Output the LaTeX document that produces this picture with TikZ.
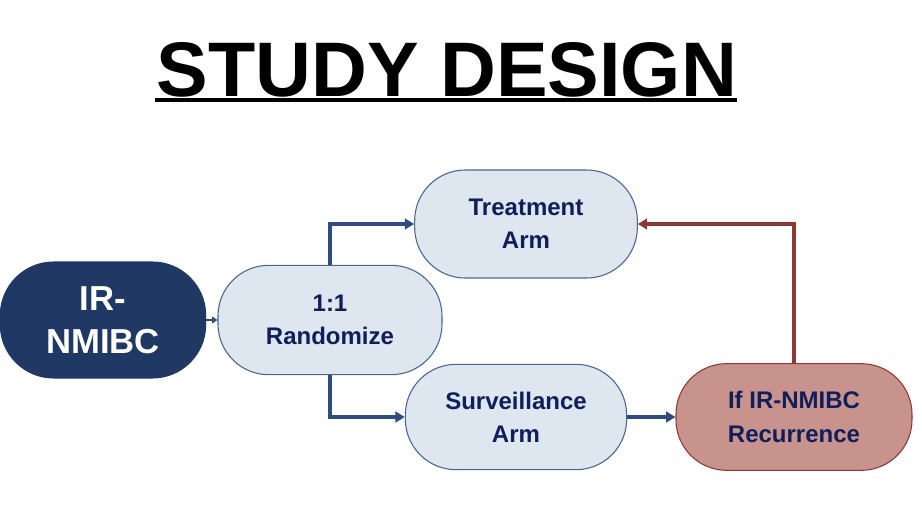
\documentclass[tikz,border=0pt]{standalone}
\usepackage{fontspec}
\setmainfont{Liberation Sans}
\usetikzlibrary{arrows.meta}
\definecolor{navy}{HTML}{1F3864}
\definecolor{lightb}{HTML}{DEE6F0}
\definecolor{bord}{HTML}{4A6590}
\definecolor{txt}{HTML}{101E5A}
\definecolor{rfill}{HTML}{C9938D}
\definecolor{rbord}{HTML}{8B3A33}
\definecolor{arrb}{HTML}{2F4C7E}
\definecolor{arrr}{HTML}{8B3A33}
\begin{document}
\begin{tikzpicture}[x=0.75pt,y=-0.75pt,
  box/.style={rounded corners=38pt,draw=bord,line width=0.8pt,fill=lightb,text=txt,
    font=\fontsize{18}{25}\selectfont\bfseries,align=center,inner sep=0pt},
  arr/.style={draw=arrb,line width=2.8pt,-{Triangle[length=7pt,width=8pt]}}]
\useasboundingbox (0,0) rectangle (922,522);
\node[font=\fontsize{58}{60}\selectfont\bfseries] (title) at (447,70) {STUDY DESIGN};
\draw[line width=3pt] (155,100) -- (737,100);
\node[box,fill=navy,draw=navy,text=white,font=\fontsize{26}{32}\selectfont\bfseries,minimum width=154pt,minimum height=87pt,rounded corners=40pt] (ir) at (103,320) {IR-\\NMIBC};
\node[box,minimum width=168pt,minimum height=82pt] (rand) at (330,320) {1:1\\Randomize};
\node[box,minimum width=167pt,minimum height=81pt] (treat) at (526,224) {Treatment\\Arm};
\node[box,minimum width=166pt,minimum height=79pt] (surv) at (516,417) {Surveillance\\Arm};
\node[box,fill=rfill,draw=rbord,minimum width=177pt,minimum height=80pt] (rec) at (794,417) {If IR-NMIBC\\Recurrence};
\draw[draw=arrb,line width=1.2pt,-{Triangle[length=4pt,width=5pt]}] (ir) -- (rand);
\draw[arr] (rand.north) |- (treat.west);
\draw[arr] (rand.south) |- (surv.west);
\draw[arr] (surv) -- (rec);
\draw[arr,draw=arrr] (rec.north) |- (treat.east);
\end{tikzpicture}
\end{document}
